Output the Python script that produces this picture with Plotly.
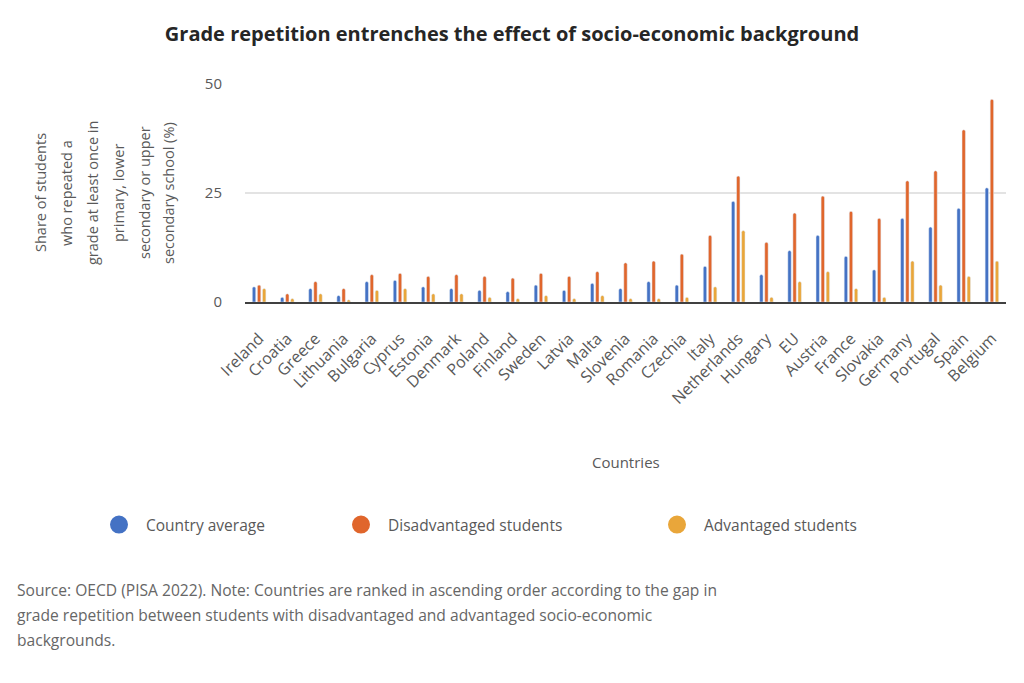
import plotly.graph_objects as go

countries = ["Ireland", "Croatia", "Greece", "Lithuania", "Bulgaria", "Cyprus", "Estonia",
             "Denmark", "Poland", "Finland", "Sweden", "Latvia", "Malta", "Slovenia",
             "Romania", "Czechia", "Italy", "Netherlands", "Hungary", "EU", "Austria",
             "France", "Slovakia", "Germany", "Portugal", "Spain", "Belgium"]
country_average = [3.5, 1.1, 3.1, 1.5, 4.7, 5.0, 3.5, 3.1, 2.7, 2.4, 3.9, 2.7, 4.3, 3.1,
                   4.7, 3.9, 8.2, 23.1, 6.3, 11.8, 15.3, 10.5, 7.4, 19.2, 17.2, 21.5, 26.2]
disadvantaged = [3.9, 1.9, 4.7, 3.1, 6.3, 6.6, 5.9, 6.3, 5.9, 5.5, 6.6, 5.9, 7.0, 9.0,
                 9.4, 11.0, 15.3, 28.9, 13.7, 20.4, 24.3, 20.8, 19.2, 27.8, 30.1, 39.5, 46.5]
advantaged = [3.1, 0.8, 1.9, 0.5, 2.7, 3.1, 1.9, 1.9, 1.1, 0.8, 1.5, 0.8, 1.5, 0.8,
              0.8, 1.1, 3.5, 16.4, 1.1, 4.7, 7.0, 3.1, 1.1, 9.4, 3.9, 5.9, 9.4]
y_ticks = [0, 25, 50]

series = [("Country average", country_average, "#4472C4"),
          ("Disadvantaged students", disadvantaged, "#E0662C"),
          ("Advantaged students", advantaged, "#E9A63A")]

FONT = "Open Sans"
GRAY = "#595959"
W, H = 1024, 683
L, R, T, B = 245, 18, 84, 381
PW = W - L - R
PH = H - T - B

def px(x):
    return (x - L) / PW

def py(y):
    return (H - B - y) / PH

fig = go.Figure()
for name, vals, col in series:
    fig.add_trace(go.Bar(x=countries, y=vals, name=name, marker=dict(color=col, cornerradius=2),
                         showlegend=False, hoverinfo="x+y+name"))

legend_x = [118, 360, 676]
legend_names = ["legend", "legend2", "legend3"]
for (name, vals, col), lx, lg in zip(series, legend_x, legend_names):
    fig.add_trace(go.Scatter(x=[None], y=[None], mode="markers", name=name,
                             marker=dict(symbol="circle", size=16, color=col,
                                         line=dict(width=2, color=col)),
                             legend=lg, showlegend=True))

legend_common = dict(orientation="h", yanchor="middle", xanchor="left", itemsizing="trace",
                     itemwidth=44,
                     font=dict(family=FONT, size=15.5, color=GRAY), bgcolor="rgba(0,0,0,0)")
layout_legends = {}
for lx, lg in zip(legend_x, legend_names):
    layout_legends[lg] = dict(x=px(lx - 26), y=py(525), **legend_common)

annotations = []
ylines = ["Share of students", "who repeated a", "grade at least once in", "primary, lower",
          "secondary or upper", "secondary school (%)"]
ypos = [40, 66, 92, 118, 144, 168]
for t, xx in zip(ylines, ypos):
    annotations.append(dict(text=t, xref="paper", yref="paper", x=px(xx), y=py(193),
                            xanchor="center", yanchor="middle", textangle=-90, showarrow=False,
                            font=dict(family=FONT, size=14.5, color=GRAY)))
annotations.append(dict(text="Countries", xref="paper", yref="paper", x=0.5, y=py(462),
                        xanchor="center", yanchor="middle", showarrow=False,
                        font=dict(family=FONT, size=15, color=GRAY)))
notes = ["Source: OECD (PISA 2022). Note: Countries are ranked in ascending order according to the gap in",
         "grade repetition between students with disadvantaged and advantaged socio-economic",
         "backgrounds."]
for i, t in enumerate(notes):
    annotations.append(dict(text=t, xref="paper", yref="paper", x=px(15), y=py(590 + 25 * i),
                            xanchor="left", yanchor="middle", showarrow=False,
                            font=dict(family=FONT, size=15.6, color="#666666")))

fig.update_layout(
    width=W, height=H,
    margin=dict(l=L, r=R, t=T, b=B, autoexpand=False),
    paper_bgcolor="white", plot_bgcolor="white",
    title=dict(text="<b>Grade repetition entrenches the effect of socio-economic background</b>",
               x=0.5, xref="container", xanchor="center", y=1 - 34 / H, yref="container",
               yanchor="middle", font=dict(family=FONT, size=20, color="#262626")),
    barmode="group", bargap=0.46, bargroupgap=0.33,
    xaxis=dict(type="category", tickangle=-45, showline=True, linecolor="#404040", linewidth=2,
               showgrid=False, ticks="", ticklabelstandoff=19,
               tickfont=dict(family=FONT, size=16, color=GRAY), fixedrange=True),
    yaxis=dict(range=[0, 50], tickvals=y_ticks, ticktext=[str(v) for v in y_ticks],
               showgrid=True, gridcolor="#E3E3E3", gridwidth=1.5, zeroline=False,
               ticks="", ticklabelstandoff=22, tickfont=dict(family=FONT, size=15, color=GRAY),
               fixedrange=True),
    annotations=annotations,
    **layout_legends,
)

fig.write_html("out.html")
